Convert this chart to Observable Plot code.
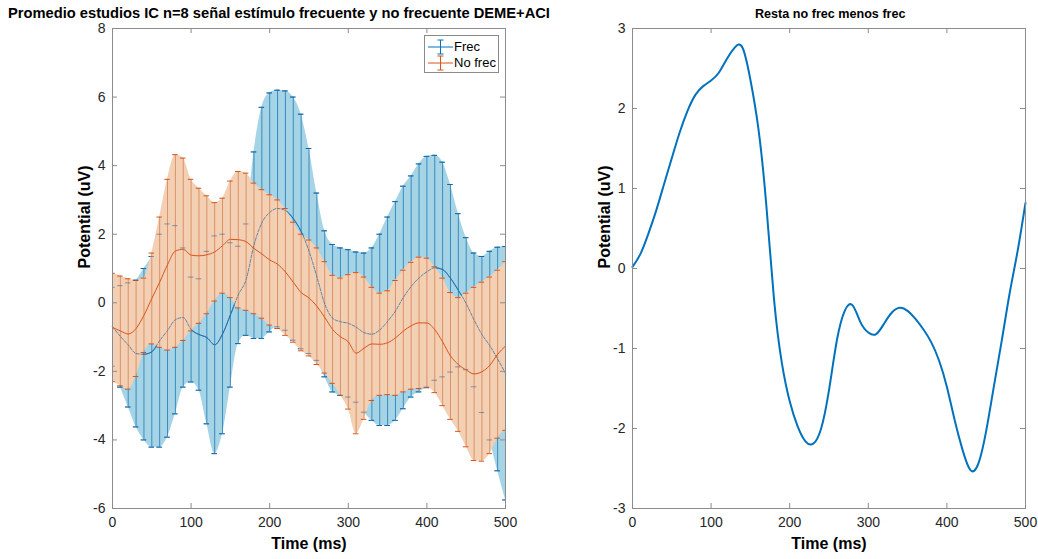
<!DOCTYPE html>
<html><head><meta charset="utf-8">
<script src="https://cdn.jsdelivr.net/npm/d3@7"></script>
<script src="https://cdn.jsdelivr.net/npm/@observablehq/plot@0.6"></script>
<style>
html,body{margin:0;padding:0;background:#fff;}
#wrap{position:relative;width:1038px;height:559px;overflow:hidden;font-family:"Liberation Sans",Arial,Helvetica,sans-serif;background:#fff;}
#left{position:absolute;left:0;top:0;}
#right{position:absolute;left:519px;top:0;}
.title{position:absolute;font-weight:bold;line-height:16px;color:#000;white-space:nowrap;}
.legend{position:absolute;left:424px;top:35px;width:73px;height:36px;border:1px solid #8a8a8a;background:#fff;font-size:13px;line-height:16px;color:#000;}
.legend span{position:absolute;left:29px;white-space:nowrap;}
.legend svg{position:absolute;left:0;top:0;}
</style>
</head><body>
<div id="wrap">
  <div id="left"></div>
  <div id="right"></div>
  <div class="title" style="left:8px;top:5px;font-size:14.7px">Promedio estudios IC n=8 señal estímulo frecuente y no frecuente DEME+ACI</div>
  <div class="title" style="left:755px;top:6px;font-size:12.6px">Resta no frec menos frec</div>
  <div class="legend">
    <svg width="30" height="36">
      <line x1="3" x2="28" y1="11" y2="11" stroke="#0072BD"/>
      <line x1="15.5" x2="15.5" y1="4" y2="18" stroke="#0072BD"/>
      <line x1="12.5" x2="18.5" y1="4" y2="4" stroke="#0072BD"/>
      <line x1="12.5" x2="18.5" y1="18" y2="18" stroke="#0072BD"/>
      <line x1="3" x2="28" y1="27" y2="27" stroke="#D95319"/>
      <line x1="15.5" x2="15.5" y1="20" y2="34" stroke="#D95319"/>
      <line x1="12.5" x2="18.5" y1="20" y2="20" stroke="#D95319"/>
      <line x1="12.5" x2="18.5" y1="34" y2="34" stroke="#D95319"/>
    </svg>
    <span style="top:3px">Frec</span>
    <span style="top:19px">No frec</span>
  </div>
</div>
<script>
// Time samples (ms)
const time = [0,10,20,30,40,50,60,70,80,90,100,110,120,130,140,150,160,170,180,190,200,210,220,230,240,250,260,270,280,290,300,310,320,330,340,350,360,370,380,390,400,410,420,430,440,450,460,470,480,490,500];

// Frec: upper and lower ends of the error bars (uV)
const frecUp = [0.45,0.5,0.58,0.66,1.0,1.35,2.0,2.3,2.25,1.6,0.75,0.7,1.5,1.95,2.0,1.75,1.65,2.3,4.4,5.7,6.12,6.2,6.18,6.0,5.5,4.5,3.2,2.1,1.7,1.6,1.55,1.48,1.45,1.6,2.0,2.5,2.95,3.4,3.7,4.05,4.27,4.3,4.1,3.45,2.6,1.9,1.45,1.35,1.5,1.62,1.64];
const frecLo = [-1.85,-2.46,-3.04,-3.62,-4.0,-4.21,-4.21,-3.92,-3.24,-2.46,-2.31,-2.55,-3.53,-4.4,-3.82,-2.46,-1.19,-0.95,-1.04,-1.04,-0.85,-0.7,-0.8,-1.09,-1.34,-1.48,-1.68,-2.16,-2.6,-2.7,-2.75,-2.9,-3.19,-3.43,-3.58,-3.58,-3.43,-3.09,-2.75,-2.6,-2.46,-2.26,-2.16,-2.02,-1.87,-1.95,-2.45,-3.2,-4.0,-4.9,-5.75];

// No frec: upper and lower ends of the error bars (uV)
const nofUp = [0.86,0.78,0.7,0.65,0.72,1.45,2.5,3.6,4.32,4.22,3.6,3.34,3.12,2.92,3.05,3.55,3.83,3.78,3.49,3.3,3.15,3.0,2.75,2.35,2.0,1.83,1.6,1.2,0.8,0.72,0.82,0.88,0.75,0.45,0.28,0.35,0.65,0.95,1.18,1.33,1.3,1.05,0.72,0.3,0.15,0.28,0.45,0.6,0.75,0.95,1.2];
const nofLo = [-2.3,-2.42,-2.52,-2.15,-1.45,-1.2,-1.3,-1.38,-1.3,-1.1,-0.82,-0.6,-0.32,0.05,0.28,0.15,-0.15,-0.22,-0.32,-0.45,-0.65,-0.75,-0.95,-1.15,-1.4,-1.55,-1.8,-2.05,-2.35,-2.7,-3.1,-3.82,-3.4,-2.85,-2.7,-2.68,-2.7,-2.6,-2.52,-2.5,-2.48,-2.62,-3.0,-3.4,-3.75,-4.2,-4.6,-4.62,-4.4,-3.95,-3.72];

// Difference no frec minus frec (uV)
const diff = [0.02,0.18,0.43,0.72,1.05,1.38,1.7,1.97,2.17,2.28,2.35,2.45,2.62,2.76,2.76,2.36,1.76,0.82,-0.38,-1.18,-1.66,-1.97,-2.16,-2.19,-2.0,-1.52,-0.9,-0.53,-0.46,-0.67,-0.8,-0.82,-0.69,-0.55,-0.49,-0.53,-0.63,-0.76,-0.92,-1.15,-1.48,-1.9,-2.27,-2.52,-2.44,-2.03,-1.46,-0.89,-0.3,0.22,0.82];

// Axis ticks and labels
const xTicks = [0,100,200,300,400,500];
const yTicksLeft = [-6,-4,-2,0,2,4,6,8];
const yTicksRight = [-3,-2,-1,0,1,2,3];
const xLabel = "Time (ms)";
const yLabel = "Potential (uV)";

const rowsF = time.map((t,i)=>({t, up: frecUp[i], lo: frecLo[i], m: (frecUp[i]+frecLo[i])/2}));
const rowsN = time.map((t,i)=>({t, up: nofUp[i], lo: nofLo[i], m: (nofUp[i]+nofLo[i])/2}));
const rowsD = time.map((t,i)=>({t, v: diff[i]}));

const BLUE = "#0072BD", ORANGE = "#D95319", AX = "#8c8c8c";
const cap = 3.5;
const font = '"Liberation Sans", Arial, Helvetica, sans-serif';
const fmt = d => String(d);

function axesMarks(yTicks, plotW, plotH) {
  return [
    Plot.frame({stroke: AX}),
    Plot.tickX(xTicks, {x: d=>d, insetTop: plotH-5, stroke: AX}),
    Plot.tickX(xTicks, {x: d=>d, insetBottom: plotH-5, stroke: AX}),
    Plot.tickY(yTicks, {y: d=>d, insetRight: plotW-5, stroke: AX}),
    Plot.tickY(yTicks, {y: d=>d, insetLeft: plotW-5, stroke: AX}),
    Plot.axisX({ticks: xTicks, tickFormat: fmt, tickSize: 0, tickPadding: 9, label: null, fill: "#262626"}),
    Plot.axisY({ticks: yTicks, tickFormat: fmt, tickSize: 0, tickPadding: 7, label: null, fill: "#262626"}),
    Plot.text([yLabel], {text: d=>d, frameAnchor: "left", dx: -28, rotate: -90, fontWeight: "bold", fontSize: 16, fill: "#000"}),
    Plot.text([xLabel], {text: d=>d, frameAnchor: "bottom", dy: 40, fontWeight: "bold", fontSize: 16, fill: "#000"})
  ];
}

const W = 519, H = 559, MT = 28, MB = 51;
const plotH = H - MT - MB;
const cv = "monotone-x";

const left = Plot.plot({
  width: W, height: H, marginTop: MT, marginBottom: MB, marginLeft: 112, marginRight: 14,
  style: {fontFamily: font, fontSize: "14px", color: "#262626", background: "transparent", overflow: "visible"},
  x: {domain: [0, 500]},
  y: {domain: [-6, 8]},
  marks: [
    Plot.areaY(rowsF, {x: "t", y1: "lo", y2: "up", fill: "#a6d4e7", curve: cv}),
    Plot.ruleX(rowsF, {x: "t", y1: "lo", y2: "up", stroke: "#2f82b6", strokeWidth: 0.9}),
    Plot.ruleY(rowsF, {y: "up", x1: d=>d.t-cap, x2: d=>d.t+cap, stroke: BLUE, clip: true}),
    Plot.ruleY(rowsF, {y: "lo", x1: d=>d.t-cap, x2: d=>d.t+cap, stroke: BLUE, clip: true}),
    Plot.line(rowsF, {x: "t", y: "m", stroke: BLUE, strokeWidth: 1, curve: cv}),
    Plot.areaY(rowsN, {x: "t", y1: "lo", y2: "up", fill: "#f3d0b4", curve: cv}),
    Plot.ruleX(rowsN, {x: "t", y1: "lo", y2: "up", stroke: "#d98a5e", strokeWidth: 0.9}),
    Plot.ruleY(rowsN, {y: "up", x1: d=>d.t-cap, x2: d=>d.t+cap, stroke: ORANGE, clip: true}),
    Plot.ruleY(rowsN, {y: "lo", x1: d=>d.t-cap, x2: d=>d.t+cap, stroke: ORANGE, clip: true}),
    Plot.ruleY(rowsF, {y: "up", x1: d=>d.t-cap, x2: d=>d.t+cap, stroke: "#2a5f8f", strokeOpacity: 0.55, clip: true}),
    Plot.ruleY(rowsF, {y: "lo", x1: d=>d.t-cap, x2: d=>d.t+cap, stroke: "#2a5f8f", strokeOpacity: 0.55, clip: true}),
    Plot.line(rowsF, {x: "t", y: "m", stroke: "#3f6f9a", strokeWidth: 1, strokeOpacity: 0.8, strokeDasharray: "3,1.5", curve: cv}),
    Plot.line(rowsN, {x: "t", y: "m", stroke: ORANGE, strokeWidth: 1, curve: cv}),
    ...axesMarks(yTicksLeft, 393, plotH)
  ]
});
document.getElementById("left").appendChild(left);

const right = Plot.plot({
  width: W, height: H, marginTop: MT, marginBottom: MB, marginLeft: 113, marginRight: 13,
  style: {fontFamily: font, fontSize: "14px", color: "#262626", background: "transparent", overflow: "visible"},
  x: {domain: [0, 500]},
  y: {domain: [-3, 3]},
  marks: [
    Plot.line(rowsD, {x: "t", y: "v", stroke: BLUE, strokeWidth: 2, curve: "natural"}),
    ...axesMarks(yTicksRight, 393, plotH)
  ]
});
document.getElementById("right").appendChild(right);
</script>
</body></html>
